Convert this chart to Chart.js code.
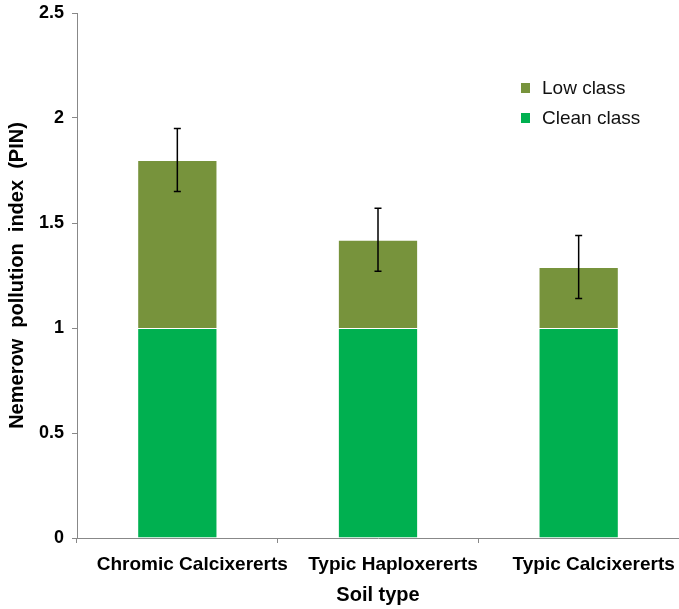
<!DOCTYPE html>
<html>
<head>
<meta charset="utf-8">
<script src="https://cdn.jsdelivr.net/npm/chart.js@4"></script>
<style>
    html, body { margin: 0; padding: 0; background: #fff; }
    #wrap { width: 679px; height: 609px; }
</style>
</head>
<body>
<div id="wrap"><canvas id="chart"></canvas></div>
<script>
// Soil types on the x axis
const soilTypes = ['Chromic Calcixererts', 'Typic Haploxererts', 'Typic Calcixererts'];
// Stacked segments
const cleanClass = [1, 1, 1];
const lowClass = [0.8, 0.42, 0.29];
// Error bar half-lengths on the stack total
const errors = [0.15, 0.15, 0.15];
const yTicks = [0, 0.5, 1, 1.5, 2, 2.5];

const FONT = 'Liberation Sans, Arial, sans-serif';

// draws the error bars on top of each stack
const errorBarPlugin = {
    id: 'errorBars',
    afterDatasetsDraw(chart) {
        const ctx = chart.ctx;
        const xs = chart.scales.x;
        const ys = chart.scales.y;
        ctx.save();
        ctx.strokeStyle = '#000';
        ctx.lineWidth = 1.5;
        soilTypes.forEach((s, i) => {
            const total = cleanClass[i] + lowClass[i];
            const x = xs.getPixelForValue(i);
            const top = ys.getPixelForValue(total + errors[i]);
            const bot = ys.getPixelForValue(total - errors[i]);
            ctx.beginPath();
            ctx.moveTo(x, top); ctx.lineTo(x, bot);
            ctx.moveTo(x - 3.5, top); ctx.lineTo(x + 3.5, top);
            ctx.moveTo(x - 3.5, bot); ctx.lineTo(x + 3.5, bot);
            ctx.stroke();
        });
        ctx.restore();
    }
};

// legend inside the plot, top right
const legendPlugin = {
    id: 'innerLegend',
    afterDraw(chart) {
        const ctx = chart.ctx;
        const items = chart.data.datasets.slice().reverse();
        ctx.save();
        ctx.font = '19px ' + FONT;
        ctx.textBaseline = 'middle';
        items.forEach((ds, k) => {
            const y = 88 + k * 30;
            ctx.fillStyle = ds.backgroundColor;
            ctx.fillRect(521, y - 5, 9, 10);
            ctx.fillStyle = '#111';
            ctx.fillText(ds.label, 542, y + 1);
        });
        ctx.restore();
    }
};

new Chart(document.getElementById('chart'), {
    type: 'bar',
    data: {
        labels: soilTypes,
        datasets: [
            {
                label: 'Clean class',
                data: cleanClass,
                backgroundColor: '#00b050',
                borderColor: 'rgba(255,255,255,0.35)',
                borderWidth: 1,
                barPercentage: 0.4,
                categoryPercentage: 1
            },
            {
                label: 'Low class',
                data: lowClass,
                backgroundColor: '#77933c',
                borderColor: 'rgba(255,255,255,0.35)',
                borderWidth: 1,
                barPercentage: 0.4,
                categoryPercentage: 1
            }
        ]
    },
    options: {
        responsive: true,
        maintainAspectRatio: false,
        animation: false,
        layout: { padding: { top: 13, right: 0, left: 5, bottom: 2 } },
        plugins: {
            legend: { display: false },
            tooltip: { enabled: false }
        },
        scales: {
            x: {
                stacked: true,
                offset: true,
                afterFit: (s) => { s.height = 69; s.paddingLeft = 0; s.paddingRight = 0; },
                grid: {
                    offset: true,
                    drawOnChartArea: false,
                    tickLength: 5,
                    color: '#888'
                },
                border: { color: '#888', width: 1 },
                ticks: {
                    color: '#000',
                    padding: 10,
                    labelOffset: 15,
                    maxRotation: 0,
                    font: { family: FONT, size: 19, weight: 'bold' }
                },
                title: {
                    display: true,
                    text: 'Soil type',
                    color: '#000',
                    padding: { top: 0, bottom: 0 },
                    font: { family: FONT, size: 20, weight: 'bold' }
                }
            },
            y: {
                stacked: true,
                min: 0,
                max: 2.5,
                afterFit: (s) => { s.width = 72; s.paddingTop = 0; s.paddingBottom = 0; },
                afterBuildTicks: (s) => { s.ticks = yTicks.map(v => ({ value: v })); },
                grid: {
                    drawOnChartArea: false,
                    tickLength: 5,
                    color: '#888'
                },
                border: { color: '#888', width: 1 },
                ticks: {
                    color: '#000',
                    padding: 8,
                    callback: (v) => String(v),
                    font: { family: FONT, size: 18, weight: 'bold' }
                },
                title: {
                    display: true,
                    text: 'Nemerow  pollution  index  (PIN)',
                    color: '#000',
                    padding: { top: 0, bottom: 0 },
                    font: { family: FONT, size: 20, weight: 'bold' }
                }
            }
        }
    },
    plugins: [errorBarPlugin, legendPlugin]
});
</script>
</body>
</html>
